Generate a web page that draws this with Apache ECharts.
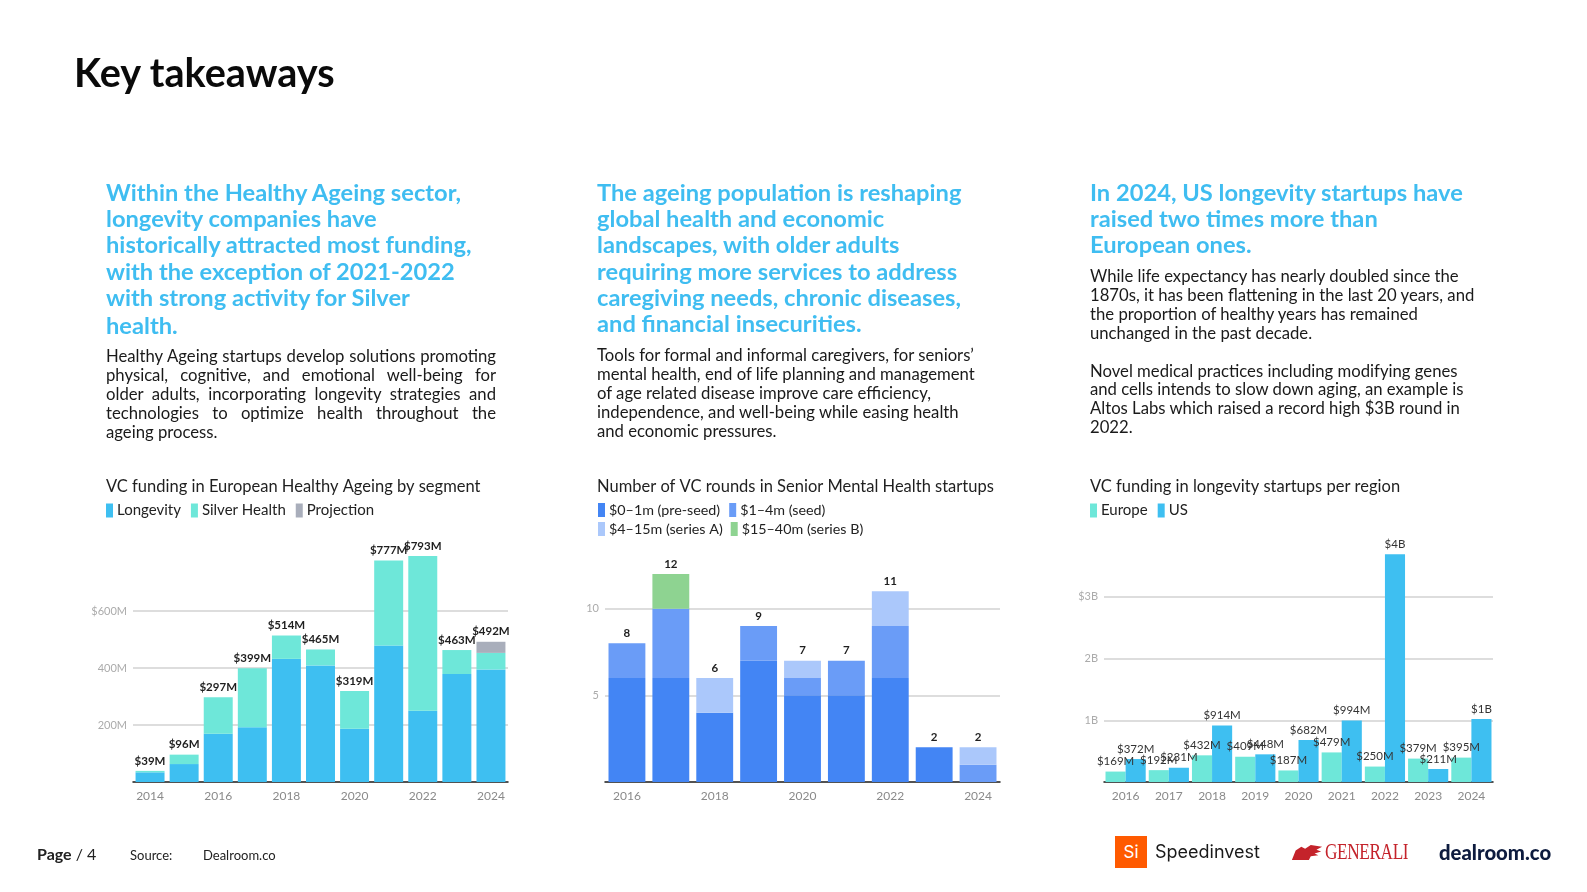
<!DOCTYPE html>
<html><head><meta charset="utf-8">
<script src="https://cdn.jsdelivr.net/npm/echarts@6/dist/echarts.min.js"></script>
<style>
html,body{margin:0;padding:0;background:#fff;}
body{width:1587px;height:892px;position:relative;overflow:hidden;font-family:Lato,"Noto Sans",sans-serif;color:#111;}
#chart{position:absolute;left:0;top:0;width:1587px;height:892px;z-index:0;}
.t{position:absolute;white-space:nowrap;z-index:2;}
.title{left:74px;top:50px;font-size:39.6px;font-weight:700;color:#0a0a0a;line-height:44px;}
.h{font-size:23.7px;font-weight:700;color:#3fbdf1;line-height:26.2px;}
.b{font-size:16.7px;line-height:18.9px;color:#1a1a1a;}
.just div{text-align:justify;text-align-last:justify;white-space:normal;}
.just div.last{text-align-last:left;}
.foot{font-size:13px;color:#222;}
</style></head>
<body>
<div id="chart"></div>

<div class="t title">Key takeaways</div>

<div class="t h" style="left:106px;top:179px;">
<div>Within the Healthy Ageing sector,</div>
<div>longevity companies have</div>
<div>historically attracted most funding,</div>
<div>with the exception of 2021-2022</div>
<div>with strong activity for Silver</div>
<div style="margin-top:2px">health.</div>
</div>
<div class="t b just" style="left:106px;top:347px;width:390px;">
<div>Healthy Ageing startups develop solutions promoting</div>
<div>physical, cognitive, and emotional well-being for</div>
<div>older adults, incorporating longevity strategies and</div>
<div>technologies to optimize health throughout the</div>
<div class="last">ageing process.</div>
</div>

<div class="t h" style="left:597px;top:179px;">
<div>The ageing population is reshaping</div>
<div>global health and economic</div>
<div>landscapes, with older adults</div>
<div>requiring more services to address</div>
<div>caregiving needs, chronic diseases,</div>
<div>and financial insecurities.</div>
</div>
<div class="t b" style="left:597px;top:346px;">
<div>Tools for formal and informal caregivers, for seniors’</div>
<div>mental health, end of life planning and management</div>
<div>of age related disease improve care efficiency,</div>
<div>independence, and well-being while easing health</div>
<div>and economic pressures.</div>
</div>

<div class="t h" style="left:1090px;top:179px;">
<div>In 2024, US longevity startups have</div>
<div>raised two times more than</div>
<div>European ones.</div>
</div>
<div class="t b" style="left:1090px;top:267px;">
<div>While life expectancy has nearly doubled since the</div>
<div>1870s, it has been flattening in the last 20 years, and</div>
<div>the proportion of healthy years has remained</div>
<div>unchanged in the past decade.</div>
<div style="height:18.9px"></div>
<div>Novel medical practices including modifying genes</div>
<div>and cells intends to slow down aging, an example is</div>
<div>Altos Labs which raised a record high $3B round in</div>
<div>2022.</div>
</div>

<div class="t" style="left:37px;top:844px;font-size:16px;color:#222;"><span style="font-weight:700">Page</span> / 4</div>
<div class="t foot" style="left:130px;top:847px;">Source:</div>
<div class="t foot" style="left:203px;top:847px;">Dealroom.co</div>

<div class="t" style="left:1115px;top:836px;width:32px;height:32px;background:#ff5a00;color:#fff;font-family:Inter,sans-serif;font-size:17px;line-height:32px;text-align:center;">Si</div>
<div class="t" style="left:1155px;top:840px;font-family:Inter,sans-serif;font-size:18px;color:#1a1a1a;line-height:24px;">Speedinvest</div>
<svg class="t" style="left:1290px;top:843px;" width="34" height="19" viewBox="0 0 36 20">
<path d="M2 18 L6 8 L12 4 L16 6 L22 2 L34 4 L28 7 L33 9 L26 11 L30 13 L22 14 L20 18 Z" fill="#c4232b"/>
</svg>
<div class="t" style="left:1325px;top:837px;font-family:'Liberation Serif',serif;font-size:23px;color:#c4232b;line-height:30px;transform:scaleX(0.75);transform-origin:left center;letter-spacing:-0.5px;">GENERALI</div>
<div class="t" style="left:1439px;top:838px;font-family:Lato,sans-serif;font-weight:900;font-size:20.3px;color:#0d1b3e;line-height:28px;">dealroom.co</div>

<script>
// ---- Chart 1: VC funding in European Healthy Ageing by segment ($M)
const years1 = ['2014','2015','2016','2017','2018','2019','2020','2021','2022','2023','2024'];
const longevity    = [34, 63, 169, 192, 432, 409, 187, 479, 250, 379, 395];
const silverHealth = [5, 33, 128, 207, 82, 56, 132, 298, 543, 84, 58];
const projection   = [0, 0, 0, 0, 0, 0, 0, 0, 0, 0, 39];

// ---- Chart 2: Number of VC rounds in Senior Mental Health startups
const years2 = ['2016','2017','2018','2019','2020','2021','2022','2023','2024'];
const preSeed = [6, 6, 4, 7, 5, 5, 6, 2, 0];
const seed    = [2, 4, 0, 2, 1, 2, 3, 0, 1];
const seriesA = [0, 0, 2, 0, 1, 0, 2, 0, 1];
const seriesB = [0, 2, 0, 0, 0, 0, 0, 0, 0];

// ---- Chart 3: VC funding in longevity startups per region ($M)
const years3 = ['2016','2017','2018','2019','2020','2021','2022','2023','2024'];
const europe = [169, 192, 432, 409, 187, 479, 250, 379, 395];
const us     = [372, 231, 914, 448, 682, 994, 3690, 211, 1020];

const total1 = years1.map((_, i) => longevity[i] + silverHealth[i] + projection[i]);
const total2 = years2.map((_, i) => preSeed[i] + seed[i] + seriesA[i] + seriesB[i]);

const FONT = 'Lato';
const C = {
  longevity:'#3ebff1', silver:'#6ee7d9', proj:'#a9aebb',
  pre:'#4385f4', seed:'#6a9cf7', a:'#abc8fb', b:'#8ed391',
  eu:'#6ee7d9', us:'#3ebff1'
};

function catAxis(gridIndex, data, interval){
  return {
    type:'category', gridIndex, data,
    axisTick:{show:false},
    axisLine:{lineStyle:{color:'#1a1a1a', width:1.5}},
    axisLabel:{interval, color:'#8a8a8a', fontSize:12, margin:8, fontFamily:FONT}
  };
}
function valAxis(gridIndex, max, interval, fmt){
  return {
    type:'value', gridIndex, min:0, max, interval,
    axisLine:{show:false}, axisTick:{show:false},
    axisLabel:{color:'#ababab', fontSize:11, margin:6, showMinLabel:false, showMaxLabel:false, formatter:fmt, fontFamily:FONT},
    splitLine:{lineStyle:{color:'#d2d2d2', width:1.5}, showMinLine:false, showMaxLine:false}
  };
}
const legendBase = (fs, gap) => ({icon:'rect', itemWidth:7, itemHeight:14, itemGap:gap, padding:0,
  textStyle:{fontSize:fs, color:'#222', fontFamily:FONT, padding:[0,0,0,-1]}, selectedMode:false});
const titleBase = (text, left) => ({text, left, top:478, padding:0,
  textStyle:{fontSize:16.5, fontWeight:'normal', color:'#1f1f1f', fontFamily:FONT}});

const totalLabel = (fmt) => ({show:true, position:'top', distance:4, color:'#1f1f1f', fontWeight:'bold', fontSize:11.5, fontFamily:FONT, formatter:fmt});
const fmtM = p => '$' + p.value + 'M';
const fmt3 = p => p.value >= 1000 ? '$' + Math.round(p.value/1000) + 'B' : '$' + p.value + 'M';

const option = {
  animation:false,
  textStyle:{fontFamily:FONT},
  title:[
    titleBase('VC funding in European Healthy Ageing by segment', 106),
    titleBase('Number of VC rounds in Senior Mental Health startups', 597),
    titleBase('VC funding in longevity startups per region', 1090)
  ],
  legend:[
    Object.assign(legendBase(15, 10), {left:106, top:503, data:['Longevity','Silver Health','Projection']}),
    Object.assign(legendBase(14.3, 9), {left:598, top:503, data:['$0–1m (pre-seed)','$1–4m (seed)']}),
    Object.assign(legendBase(14.3, 8), {left:598, top:522, data:['$4–15m (series A)','$15–40m (series B)']}),
    Object.assign(legendBase(15, 10), {left:1090, top:503, data:['Europe','US']})
  ],
  grid:[
    {left:133, top:554, width:375, height:228},
    {left:605, top:522, width:395, height:260},
    {left:1104, top:535, width:389, height:247}
  ],
  xAxis:[ catAxis(0, years1, 1), catAxis(1, years2, 1), catAxis(2, years3, 0) ],
  yAxis:[
    valAxis(0, 800, 200, v => v === 600 ? '$600M' : v + 'M'),
    valAxis(1, 15, 5, v => String(v)),
    valAxis(2, 4000, 1000, v => v === 3000 ? '$3B' : (v/1000) + 'B')
  ],
  series:[
    {name:'Longevity', type:'bar', stack:'c1', xAxisIndex:0, yAxisIndex:0, data:longevity, itemStyle:{color:C.longevity}, barCategoryGap:'15%', barGap:'-100%'},
    {name:'Silver Health', type:'bar', stack:'c1', xAxisIndex:0, yAxisIndex:0, data:silverHealth, itemStyle:{color:C.silver}},
    {name:'Projection', type:'bar', stack:'c1', xAxisIndex:0, yAxisIndex:0, data:projection, itemStyle:{color:C.proj}},
    {name:'total1', type:'bar', xAxisIndex:0, yAxisIndex:0, data:total1, silent:true, itemStyle:{color:'rgba(0,0,0,0)'}, label:totalLabel(fmtM), barGap:'-100%', z:5},

    {name:'$0–1m (pre-seed)', type:'bar', stack:'c2', xAxisIndex:1, yAxisIndex:1, data:preSeed, itemStyle:{color:C.pre}, barCategoryGap:'16%', barGap:'-100%'},
    {name:'$1–4m (seed)', type:'bar', stack:'c2', xAxisIndex:1, yAxisIndex:1, data:seed, itemStyle:{color:C.seed}},
    {name:'$4–15m (series A)', type:'bar', stack:'c2', xAxisIndex:1, yAxisIndex:1, data:seriesA, itemStyle:{color:C.a}},
    {name:'$15–40m (series B)', type:'bar', stack:'c2', xAxisIndex:1, yAxisIndex:1, data:seriesB, itemStyle:{color:C.b}},
    {name:'total2', type:'bar', xAxisIndex:1, yAxisIndex:1, data:total2, silent:true, itemStyle:{color:'rgba(0,0,0,0)'}, label:totalLabel(p => String(p.value)), barGap:'-100%', z:5},

    {name:'Europe', type:'bar', xAxisIndex:2, yAxisIndex:2, data:europe, itemStyle:{color:C.eu}, barGap:'0%', barCategoryGap:'7%',
      label:{show:true, position:'top', distance:4, color:'#333', fontSize:11.5, fontFamily:FONT, formatter:fmt3}},
    {name:'US', type:'bar', xAxisIndex:2, yAxisIndex:2, data:us, itemStyle:{color:C.us}, barGap:'0%', barCategoryGap:'7%',
      label:{show:true, position:'top', distance:4, color:'#333', fontSize:11.5, fontFamily:FONT, formatter:fmt3}}
  ]
};
const chart = echarts.init(document.getElementById('chart'), null, {renderer:'canvas'});
chart.setOption(option);
</script>
</body></html>
